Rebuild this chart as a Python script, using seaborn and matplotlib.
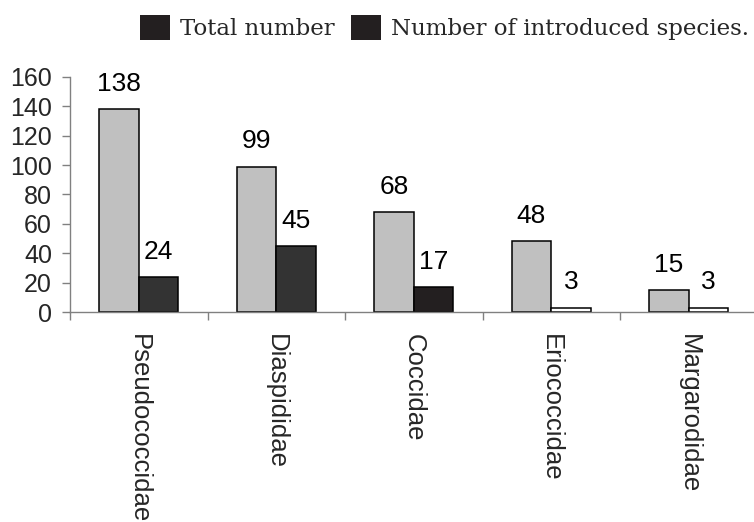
import numpy as np
import pandas as pd
import matplotlib
matplotlib.use("Agg")
import matplotlib.pyplot as plt
from matplotlib.patches import Patch
import seaborn as sns

# Scale insect families: total species and introduced species
families = ["Pseudococcidae", "Diaspididae", "Coccidae", "Eriococcidae", "Margarodidae"]
total_number = [138, 99, 68, 48, 15]
introduced_number = [24, 45, 17, 3, 3]
series_names = ["Total number", "Number of introduced species."]
y_ticks = [0, 20, 40, 60, 80, 100, 120, 140, 160]

# fill colours of the introduced-species bars, one per family
introduced_colors = ["#333333", "#333333", "#231f20", "#ffffff", "#ffffff"]

sns.set_theme(style="white")
plt.rcParams["font.family"] = ["Liberation Sans", "DejaVu Sans"]

df = pd.DataFrame({
    "family": families * 2,
    "count": total_number + introduced_number,
    "series": [series_names[0]] * len(families) + [series_names[1]] * len(families),
})

fig = plt.figure(figsize=(7.54, 5.22), dpi=100)
ax = fig.add_axes([70 / 754, 210 / 522, 687.5 / 754, 235 / 522])

sns.barplot(
    data=df, x="family", y="count", hue="series", order=families,
    hue_order=series_names,
    palette={series_names[0]: "#c0c0c0", series_names[1]: "#333333"},
    width=0.575, edgecolor="black", linewidth=1.1, saturation=1,
    legend=False, ax=ax,
)

for patch, color in zip(ax.containers[1], introduced_colors):
    patch.set_facecolor(color)

for container in ax.containers:
    ax.bar_label(container, padding=9.5, fontsize=19, color="black")

ax.set_xlim(-0.5, len(families) - 0.5)
ax.set_ylim(0, 160)
ax.set_yticks(y_ticks)
ax.set_xlabel("")
ax.set_ylabel("")

ax.set_xticks(range(len(families)))
ax.set_xticklabels(families, rotation=-90, fontsize=18.5)
ax.set_xticks(np.arange(-0.5, len(families), 1.0), minor=True)
ax.tick_params(axis="x", which="major", length=0, pad=16)
ax.tick_params(axis="x", which="minor", length=6, width=1, color="#808080",
               direction="out", bottom=True)
ax.tick_params(axis="y", length=6, width=1, color="#808080", direction="out",
               left=True, labelsize=18, pad=7)

for side in ("top", "right"):
    ax.spines[side].set_visible(False)
for side in ("left", "bottom"):
    ax.spines[side].set_color("#808080")
    ax.spines[side].set_linewidth(1)

handles = [Patch(facecolor="#231f20", edgecolor="none", label=name) for name in series_names]
fig.legend(
    handles=handles, loc="upper left", bbox_to_anchor=(140 / 754, 1 - 15 / 522),
    ncol=2, frameon=False, borderpad=0, borderaxespad=0,
    handlelength=1.3, handleheight=1.3, handletextpad=0.45, columnspacing=0.7,
    prop={"family": "DejaVu Serif", "size": 16.5},
)

fig.savefig("out.png", dpi=100)
